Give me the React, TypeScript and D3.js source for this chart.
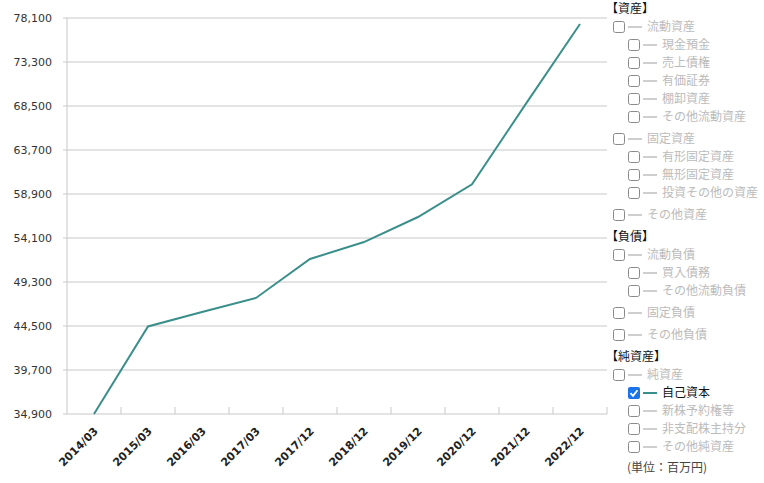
import React from "react";
import * as d3 from "d3";

const categories = ["2014/03", "2015/03", "2016/03", "2017/03", "2017/12", "2018/12", "2019/12", "2020/12", "2021/12", "2022/12"];
const equity = [34900, 44450, 46030, 47560, 51810, 53660, 56390, 59960, 68760, 77450];
const yTicks = [34900, 39700, 44500, 49300, 54100, 58900, 63700, 68500, 73300, 78100];

type Row = { label: string; kind: "header" | "top" | "sub" | "unit"; checked?: boolean };
const legendRows: Row[] = [
  { label: "【資産】", kind: "header" },
  { label: "流動資産", kind: "top" },
  { label: "現金預金", kind: "sub" },
  { label: "売上債権", kind: "sub" },
  { label: "有価証券", kind: "sub" },
  { label: "棚卸資産", kind: "sub" },
  { label: "その他流動資産", kind: "sub" },
  { label: "固定資産", kind: "top" },
  { label: "有形固定資産", kind: "sub" },
  { label: "無形固定資産", kind: "sub" },
  { label: "投資その他の資産", kind: "sub" },
  { label: "その他資産", kind: "top" },
  { label: "【負債】", kind: "header" },
  { label: "流動負債", kind: "top" },
  { label: "買入債務", kind: "sub" },
  { label: "その他流動負債", kind: "sub" },
  { label: "固定負債", kind: "top" },
  { label: "その他負債", kind: "top" },
  { label: "【純資産】", kind: "header" },
  { label: "純資産", kind: "top" },
  { label: "自己資本", kind: "sub", checked: true },
  { label: "新株予約権等", kind: "sub" },
  { label: "非支配株主持分", kind: "sub" },
  { label: "その他純資産", kind: "sub" },
  { label: "(単位：百万円)", kind: "unit" },
];

const W = 764, H = 483;
const M = { left: 67, right: 607, top: 18, bottom: 414 };
const LINE = "#3b8f8b";
const JP = "'Noto Sans CJK JP', 'Noto Sans', sans-serif";

export default function App() {
  const x = d3.scaleBand<string>().domain(categories).range([M.left, M.right]).padding(0);
  const y = d3.scaleLinear().domain([yTicks[0], yTicks[yTicks.length - 1]]).range([M.bottom, M.top]);
  const line = d3.line<number>().x((_, i) => (x(categories[i]) as number) + x.bandwidth() / 2).y((d) => y(d));

  // legend layout
  let cy = 9;
  const placed: { row: Row; y: number }[] = [];
  legendRows.forEach((row, i) => {
    if (i > 0) {
      const prev = legendRows[i - 1];
      let step = 18;
      if ((row.kind === "top" || row.kind === "header") && prev.kind !== "header") step += 4;
      if (row.kind === "unit") step += 3;
      cy += step;
    }
    placed.push({ row, y: cy });
  });

  return (
    <svg width={W} height={H} style={{ position: "absolute", left: 0, top: 0, background: "#fff" }}>
      {/* grid */}
      {yTicks.map((t) => (
        <g key={t}>
          <line x1={M.left - 4} x2={M.right} y1={y(t)} y2={y(t)} stroke="#c8c8c8" strokeWidth={1} />
          <text x={M.left - 15} y={y(t)} dy="0.35em" textAnchor="end" fontFamily="'DejaVu Sans', Verdana, sans-serif" fontSize={11} fill="#333">
            {d3.format(",")(t)}
          </text>
        </g>
      ))}
      <line x1={M.left} x2={M.left} y1={M.top} y2={M.bottom} stroke="#c8c8c8" />
      {/* x ticks (upward) */}
      {categories.map((c) => (
        <line key={"t" + c} x1={(x(c) as number) + x.bandwidth()} x2={(x(c) as number) + x.bandwidth()} y1={M.bottom - 7} y2={M.bottom} stroke="#c8c8c8" />
      ))}
      {categories.map((c) => {
        const cx = (x(c) as number) + x.bandwidth() / 2;
        return (
          <text key={"l" + c} transform={`translate(${cx + 2},${M.bottom + 15}) rotate(-45)`} textAnchor="end" dy="0.35em" fontFamily="'DejaVu Sans', Verdana, sans-serif" fontWeight="bold" fontSize={11} fill="#222">
            {c}
          </text>
        );
      })}
      <path d={line(equity) as string} fill="none" stroke={LINE} strokeWidth={2} />

      {/* legend */}
      <rect x={608} y={0} width={156} height={483} fill="#fff" />
      {placed.map(({ row, y: ry }, i) => {
        if (row.kind === "header") {
          return (
            <text key={i} x={606} y={ry} dy="0.35em" fontFamily={JP} fontSize={12} fill="#111">{row.label}</text>
          );
        }
        if (row.kind === "unit") {
          return (
            <text key={i} x={627} y={ry} dy="0.35em" fontFamily={JP} fontSize={12} fill="#444">{row.label}</text>
          );
        }
        const bx = row.kind === "top" ? 613 : 628;
        const on = !!row.checked;
        return (
          <g key={i}>
            {on ? (
              <g>
                <rect x={bx} y={ry - 6} width={12} height={12} rx={2} fill="#1a73e8" />
                <path d={`M${bx + 2.5},${ry + 0.2} L${bx + 5},${ry + 2.8} L${bx + 9.5},${ry - 2.8}`} fill="none" stroke="#fff" strokeWidth={1.8} />
              </g>
            ) : (
              <rect x={bx + 0.5} y={ry - 5.5} width={11} height={11} rx={2} fill="#fff" stroke="#8a8a8a" />
            )}
            <line x1={bx + 15} x2={bx + 29} y1={ry} y2={ry} stroke={on ? LINE : "#cfcfcf"} strokeWidth={2} />
            <text x={bx + 34} y={ry} dy="0.35em" fontFamily={JP} fontSize={12} fill={on ? "#111" : "#bbb"}>{row.label}</text>
          </g>
        );
      })}
    </svg>
  );
}
